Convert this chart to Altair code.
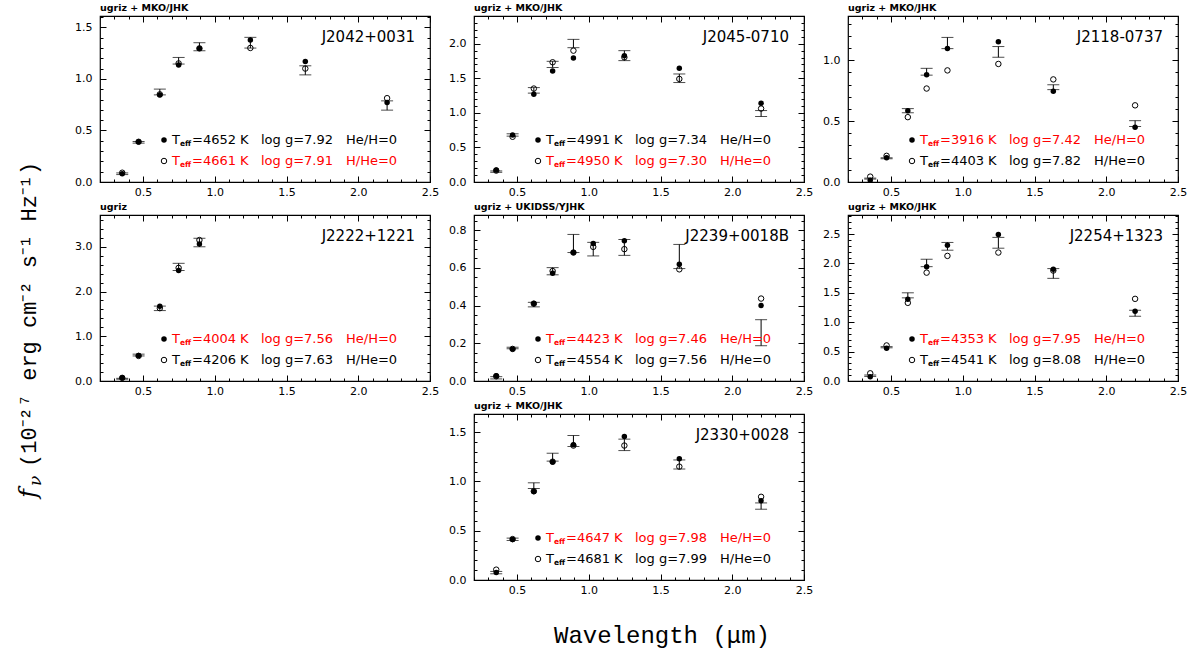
import altair as alt
import numpy as np
import pandas as pd

# Effective wavelengths (micron) of the photometric bands
WL_SDSS_MKO = [0.355, 0.469, 0.617, 0.748, 0.893, 1.248, 1.631, 2.201]
WL_SDSS = [0.355, 0.469, 0.617, 0.748, 0.893]
WL_SDSS_UKIDSS = [0.355, 0.469, 0.617, 0.748, 0.893, 1.031, 1.248, 1.631, 2.201]

# Observed fluxes, 1-sigma errors and best-fit model fluxes (1e-27 erg/cm2/s/Hz)
J2042_OBS = [0.080, 0.385, 0.873, 1.176, 1.312, 1.351, 1.083, 0.742]
J2042_ERR = [0.008, 0.008, 0.028, 0.032, 0.039, 0.052, 0.044, 0.045]
J2042_H = [0.080, 0.390, 0.845, 1.134, 1.296, 1.377, 1.169, 0.771]
J2042_HE = [0.090, 0.390, 0.850, 1.150, 1.296, 1.300, 1.100, 0.813]

J2045_OBS = [0.150, 0.680, 1.325, 1.700, 2.002, 1.827, 1.500, 0.990]
J2045_ERR = [0.010, 0.017, 0.040, 0.045, 0.060, 0.072, 0.062, 0.043]
J2045_H = [0.173, 0.678, 1.269, 1.606, 1.793, 1.827, 1.644, 1.139]
J2045_HE = [0.165, 0.654, 1.351, 1.731, 1.899, 1.803, 1.490, 1.062]

J2118_OBS = [0.028, 0.195, 0.586, 0.906, 1.142, 1.069, 0.779, 0.480]
J2118_ERR = [0.004, 0.004, 0.017, 0.028, 0.046, 0.044, 0.020, 0.024]
J2118_H = [0.014, 0.199, 0.586, 0.881, 1.097, 1.152, 0.746, 0.450]
J2118_HE = [0.044, 0.215, 0.533, 0.768, 0.917, 0.970, 0.843, 0.630]

J2222_OBS = [0.050, 0.580, 1.624, 2.550, 3.095]
J2222_ERR = [0.010, 0.020, 0.050, 0.080, 0.095]
J2222_H = [0.075, 0.570, 1.673, 2.468, 3.060]
J2222_HE = [0.070, 0.560, 1.628, 2.528, 3.150]

J2239_OBS = [0.017, 0.175, 0.405, 0.582, 0.729, 0.699, 0.708, 0.660, 0.256]
J2239_ERR = [0.006, 0.004, 0.012, 0.019, 0.048, 0.036, 0.042, 0.064, 0.069]
J2239_H = [0.028, 0.169, 0.411, 0.571, 0.681, 0.729, 0.743, 0.619, 0.400]
J2239_HE = [0.025, 0.170, 0.410, 0.583, 0.681, 0.711, 0.699, 0.592, 0.437]

J2254_OBS = [0.090, 0.575, 1.458, 2.009, 2.292, 2.352, 1.830, 1.153]
J2254_ERR = [0.012, 0.010, 0.043, 0.063, 0.066, 0.092, 0.083, 0.051]
J2254_H = [0.074, 0.559, 1.393, 1.946, 2.312, 2.494, 1.900, 1.187]
J2254_HE = [0.131, 0.605, 1.330, 1.844, 2.129, 2.186, 1.880, 1.398]

J2330_OBS = [0.075, 0.413, 0.957, 1.246, 1.410, 1.371, 1.172, 0.750]
J2330_ERR = [0.012, 0.012, 0.029, 0.040, 0.056, 0.058, 0.046, 0.032]
J2330_H = [0.075, 0.410, 0.898, 1.197, 1.371, 1.456, 1.231, 0.803]
J2330_HE = [0.105, 0.415, 0.900, 1.200, 1.364, 1.364, 1.150, 0.844]

# Fitted parameters: (Teff, log g) for the pure-H and pure-He solutions
NAMES = ["J2042+0031", "J2045-0710", "J2118-0737", "J2222+1221",
         "J2239+0018B", "J2254+1323", "J2330+0028"]
PHOTOMETRY = ["ugriz + MKO/JHK", "ugriz + MKO/JHK", "ugriz + MKO/JHK", "ugriz",
              "ugriz + UKIDSS/YJHK", "ugriz + MKO/JHK", "ugriz + MKO/JHK"]
FIT_H = [(4652, "7.92"), (4991, "7.34"), (3916, "7.42"), (4004, "7.56"),
         (4423, "7.46"), (4353, "7.95"), (4647, "7.98")]
FIT_HE = [(4661, "7.91"), (4950, "7.30"), (4403, "7.82"), (4206, "7.63"),
          (4554, "7.56"), (4541, "8.08"), (4681, "7.99")]
# which solution is the preferred one (drawn in red)
PREFERRED = ["He", "He", "H", "H", "H", "H", "H"]

Y_MAX = [1.61, 2.40, 1.364, 3.71, 0.88, 2.825, 1.684]
Y_MAJOR = [0.5, 0.5, 0.5, 1.0, 0.2, 0.5, 0.5]
Y_MINOR = [0.1, 0.1, 0.1, 0.2, 0.05, 0.1, 0.1]

SERIES = [
    (WL_SDSS_MKO, J2042_OBS, J2042_ERR, J2042_H, J2042_HE),
    (WL_SDSS_MKO, J2045_OBS, J2045_ERR, J2045_H, J2045_HE),
    (WL_SDSS_MKO, J2118_OBS, J2118_ERR, J2118_H, J2118_HE),
    (WL_SDSS, J2222_OBS, J2222_ERR, J2222_H, J2222_HE),
    (WL_SDSS_UKIDSS, J2239_OBS, J2239_ERR, J2239_H, J2239_HE),
    (WL_SDSS_MKO, J2254_OBS, J2254_ERR, J2254_H, J2254_HE),
    (WL_SDSS_MKO, J2330_OBS, J2330_ERR, J2330_H, J2330_HE),
]

W, H = 330, 166
X_DOMAIN = [0.2, 2.5]
RED, BLACK = "#ff0000", "#000000"
FONT = "DejaVu Sans"
ONE = pd.DataFrame({"n": [0]})


def steps(lo, hi, step):
    return [round(float(v), 4) for v in np.arange(lo, hi + 1e-9, step)]


def label(txt, x, y, size, color=BLACK, align="left", weight="normal",
          font=FONT, angle=None, style=None):
    kw = dict(text=txt, align=align, baseline="middle", fontSize=size,
              color=color, font=font, fontWeight=weight)
    if angle is not None:
        kw["angle"] = angle
    if style is not None:
        kw["fontStyle"] = style
    return alt.Chart(ONE).mark_text(**kw).encode(x=alt.value(x), y=alt.value(y))


def tick_axis(vals, orient, offset, size):
    return alt.Axis(values=vals, orient=orient, offset=offset, labels=False,
                    ticks=True, tickSize=size, tickColor=BLACK, tickWidth=1,
                    domain=False, grid=False, title=None)


def panel(i, extra=()):
    wl, obs, err, mh, mhe = SERIES[i]
    obs, err = np.array(obs), np.array(err)
    df = pd.DataFrame({"wl": wl, "obs": obs, "lo": obs - err, "hi": obs + err,
                       "mh": mh, "mhe": mhe})
    xs = alt.Scale(domain=X_DOMAIN, nice=False, zero=False)
    ys = alt.Scale(domain=[0, Y_MAX[i]], nice=False, zero=False)

    def X(f, axis=None):
        return alt.X(f"{f}:Q", scale=xs, axis=axis)

    def Y(f, axis=None):
        return alt.Y(f"{f}:Q", scale=ys, axis=axis)

    x_major = steps(0.5, 2.5, 0.5)
    x_minor = steps(0.2, 2.5, 0.1)
    y_major = steps(0, Y_MAX[i], Y_MAJOR[i])
    y_minor = steps(0, Y_MAX[i], Y_MINOR[i])

    x_lab = alt.Axis(values=x_major, format=".1f", ticks=False, domain=False,
                     grid=False, title=None, labelFont=FONT, labelFontSize=11,
                     labelColor=BLACK, labelPadding=4, labelFlush=False,
                     labelOverlap=False, orient="bottom")
    y_lab = alt.Axis(values=y_major, format=".1f", ticks=False, domain=False,
                     grid=False, title=None, labelFont=FONT, labelFontSize=11,
                     labelColor=BLACK, labelPadding=8, labelOverlap=False,
                     orient="left")

    base = alt.Chart(df)
    layers = [
        base.mark_rule(color=BLACK, strokeWidth=1).encode(
            x=X("wl", x_lab), y=Y("lo", y_lab), y2="hi"),
        base.mark_tick(orient="horizontal", size=12, thickness=1, color=BLACK).encode(
            x=X("wl"), y=Y("lo")),
        base.mark_tick(orient="horizontal", size=12, thickness=1, color=BLACK).encode(
            x=X("wl"), y=Y("hi")),
        base.mark_point(shape="circle", filled=True, size=30, color=BLACK, opacity=1).encode(
            x=X("wl"), y=Y("mh")),
        base.mark_point(shape="circle", filled=False, size=30, color=BLACK,
                        strokeWidth=1, opacity=1).encode(x=X("wl"), y=Y("mhe")),
    ]
    # inward ticks on all four sides
    for orient_x, orient_y in (("top", "right"), ("bottom", "left")):
        for xv, yv, size in ((x_major, y_major, 6), (x_minor, y_minor, 3)):
            layers.append(base.mark_point(opacity=0).encode(
                x=X("wl", tick_axis(xv, orient_x, -H, size)),
                y=Y("obs", tick_axis(yv, orient_y, -W, size))))

    # legend of the two model fits
    rows = [("He/H=0", FIT_H[i], True, PREFERRED[i] == "H"),
            ("H/He=0", FIT_HE[i], False, PREFERRED[i] == "He")]
    for r, (comp, (teff, logg), filled, pref) in enumerate(rows):
        y = 124 + 21 * r
        col = RED if pref else BLACK
        layers.append(alt.Chart(ONE).mark_point(
            shape="circle", filled=filled, size=30, color=BLACK, strokeWidth=1,
            opacity=1).encode(x=alt.value(64), y=alt.value(y)))
        layers.append(label("T", 72, y, 13, col))
        layers.append(label("eff", 80, y + 4, 7.5, col, weight="bold"))
        layers.append(label(f"={teff} K", 92, y, 13, col))
        layers.append(label(f"log g={logg}", 161, y, 13, col))
        layers.append(label(comp, 246, y, 13, col))

    layers.append(label(NAMES[i], W - 15, 21, 15, align="right"))
    layers.extend(extra)

    return alt.layer(*layers).resolve_axis(x="independent", y="independent").properties(
        width=W, height=H,
        title=alt.TitleParams(PHOTOMETRY[i], anchor="start", frame="group", font=FONT,
                              fontSize=9.5, fontWeight="bold", color=BLACK, offset=3))


# shared axis titles; the y title sits in the empty lower-left cell
y_title = [
    label("f", -71, 84, 24, font="DejaVu Serif", angle=270, style="italic"),
    label("ν", -64, 72, 17, font="DejaVu Serif", angle=270, style="italic"),
    label("(10⁻²⁷ erg cm⁻² s⁻¹ Hz⁻¹)", -71, 53, 22, font="Liberation Mono", angle=270),
]
x_title = [label("Wavelength (μm)", 188, 222, 24, font="Liberation Mono", align="center")]

blank = alt.layer(
    alt.Chart(ONE).mark_point(opacity=0).encode(x=alt.value(0), y=alt.value(0)),
    *y_title
).properties(width=W, height=H, view=alt.ViewBackground(strokeOpacity=0))

panels = [panel(0), panel(1), panel(2), panel(3), panel(4), panel(5),
          blank, panel(6, x_title)]

chart = alt.concat(*panels, columns=3, spacing={"row": 33, "column": 44},
                   bounds="flush").properties(
    padding={"left": 17, "top": 2, "right": 5, "bottom": 5}
).configure_view(stroke=BLACK, strokeWidth=1.2)

chart.save("out.html", embed_options={"renderer": "svg", "actions": False})
